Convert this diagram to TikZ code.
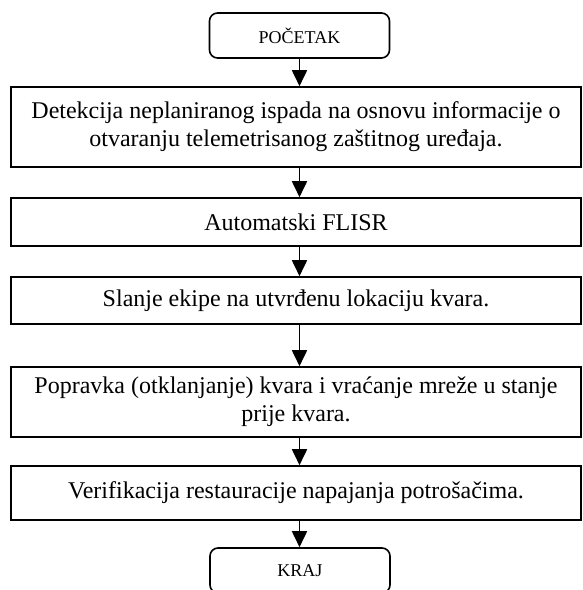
\documentclass[tikz,border=0pt]{standalone}
\usepackage{fontspec}
\setmainfont{Liberation Serif}
\usetikzlibrary{arrows.meta}
\begin{document}
\begin{tikzpicture}[x=1pt,y=-1pt,
  stepbox/.style={draw,line width=1.6pt,minimum width=570pt,inner sep=0pt,align=center,
    font=\fontsize{24}{28}\selectfont},
  term/.style={draw,line width=1.6pt,rounded corners=8pt,minimum width=180pt,minimum height=45pt,
    inner sep=0pt,font=\fontsize{18}{21}\selectfont},
  flow/.style={line width=1.8pt,-{Triangle[length=16pt,width=15pt]}}]
\useasboundingbox (0,0) rectangle (583,590);
\node[term] (s) at (299.5,35.5) {POČETAK};
\node[stepbox,minimum height=80pt] (b1) at (296,127) {Detekcija neplaniranog ispada na osnovu informacije o\\otvaranju telemetrisanog zaštitnog uređaja.};
\node[stepbox,minimum height=48pt] (b2) at (296,222) {Automatski FLISR};
\node[stepbox,minimum height=47pt] (b3) at (296,300.5) {Slanje ekipe na utvrđenu lokaciju kvara.};
\node[stepbox,minimum height=70pt] (b4) at (296,402) {Popravka (otklanjanje) kvara i vraćanje mreže u stanje\\prije kvara.};
\node[stepbox,minimum height=54pt] (b5) at (296,493) {Verifikacija restauracije napajanja potrošačima.};
\node[term] (e) at (300,570.5) {KRAJ};
\draw[flow] (s.south) -- (s.south |- b1.north);
\draw[flow] (b1.south -| s) -- (b2.north -| s);
\draw[flow] (b2.south -| s) -- (b3.north -| s);
\draw[flow] (b3.south -| s) -- (b4.north -| s);
\draw[flow] (b4.south -| s) -- (b5.north -| s);
\draw[flow] (b5.south -| s) -- (e.north -| s);
\end{tikzpicture}
\end{document}
